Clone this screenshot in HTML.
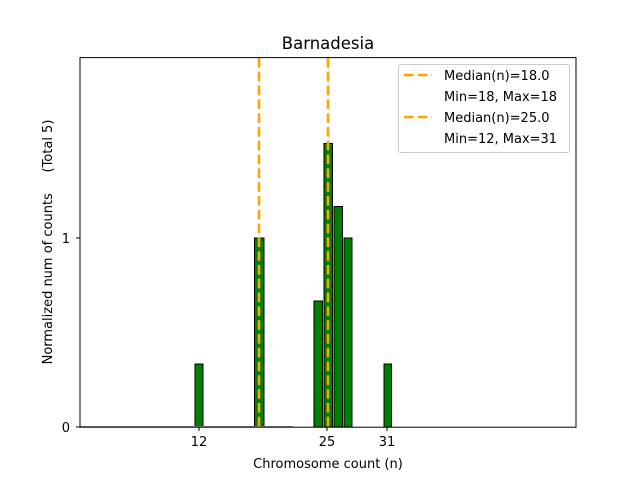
<!DOCTYPE html><html><head><style>body{margin:0;background:#fff}</style></head><body>
<svg width="640" height="480" xmlns="http://www.w3.org/2000/svg" font-family="DejaVu Sans, Liberation Sans, sans-serif">
<rect width="640" height="480" fill="#fff"/>
<text x="328" y="49" font-size="16.5" text-anchor="middle">Barnadesia</text>
<g fill="#008000" stroke="#000" stroke-width="1">
<rect x="195" y="364" width="8" height="63"/>
<rect x="254.5" y="238" width="9.5" height="189"/>
<rect x="314" y="301" width="8.5" height="126"/>
<rect x="324" y="143.5" width="8.5" height="283.5"/>
<rect x="334" y="206.5" width="8.5" height="220.5"/>
<rect x="344" y="238" width="8" height="189"/>
<rect x="384" y="364" width="7.5" height="63"/>
</g>
<line x1="80" y1="426.5" x2="293" y2="426.5" stroke="#888" stroke-width="1"/>
<g stroke="#FFA500" stroke-width="2.6" stroke-dasharray="9.6,4.2">
<line x1="259" y1="58" x2="259" y2="427"/>
<line x1="328" y1="58" x2="328" y2="427"/>
</g>
<rect x="80" y="57.6" width="496" height="369.6" fill="none" stroke="#000" stroke-width="1"/>
<g stroke="#000"><line x1="199" y1="427" x2="199" y2="431"/><line x1="327" y1="427" x2="327" y2="431"/><line x1="387" y1="427" x2="387" y2="431"/>
<line x1="76" y1="427" x2="80" y2="427"/><line x1="76" y1="238" x2="80" y2="238"/></g>
<g font-size="13" text-anchor="middle"><text x="199" y="446">12</text><text x="327" y="446">25</text><text x="387" y="446">31</text>
<text x="328" y="468">Chromosome count (n)</text></g>
<g font-size="13" text-anchor="end"><text x="70" y="432">0</text><text x="70" y="243">1</text></g>
<text transform="translate(52,242) rotate(-90)" font-size="13" text-anchor="middle" xml:space="preserve">Normalized num of counts     (Total 5)</text>
<rect x="398.5" y="64.5" width="171" height="88" rx="2" fill="#fff" stroke="#ccc"/>
<g stroke="#FFA500" stroke-width="2.6" stroke-dasharray="9.6,4.2"><line x1="404" y1="75" x2="432" y2="75"/><line x1="404" y1="117" x2="432" y2="117"/></g>
<g font-size="13"><text x="444" y="80">Median(n)=18.0</text><text x="444" y="101">Min=18, Max=18</text>
<text x="444" y="122">Median(n)=25.0</text><text x="444" y="143">Min=12, Max=31</text></g>
</svg></body></html>
